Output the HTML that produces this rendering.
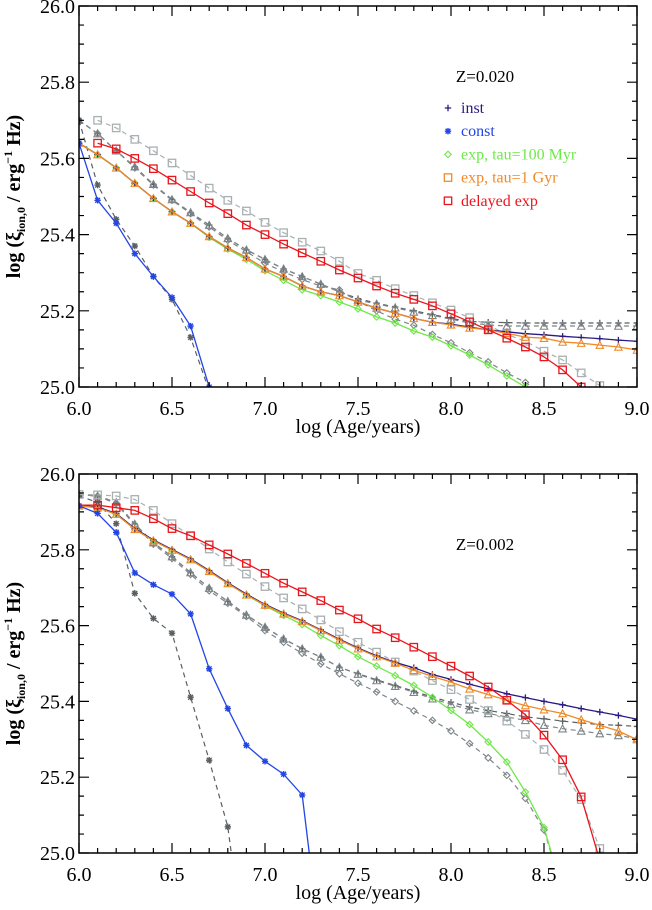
<!DOCTYPE html>
<html><head><meta charset="utf-8"><style>
html,body{margin:0;padding:0;background:#fff;overflow:hidden;width:652px;height:910px;}
svg{display:block;overflow:hidden;}
svg text{font-family:"Liberation Serif","DejaVu Serif",serif;}
</style></head><body>
<svg id="fig" width="652" height="910" viewBox="0 0 652 910" xmlns="http://www.w3.org/2000/svg"></svg>
<script>
const ages=[6.0,6.1,6.2,6.3,6.4,6.5,6.6,6.7,6.8,6.9,7.0,7.1,7.2,7.3,7.4,7.5,7.6,7.7,7.8,7.9,8.0,8.1,8.2,8.3,8.4,8.5,8.6,8.7,8.8,8.9,9.0];
const xTicks=["6.0","6.5","7.0","7.5","8.0","8.5","9.0"];
const yTicks=["25.0","25.2","25.4","25.6","25.8","26.0"];
// Top panel Z=0.020
const topOrange=[25.64,25.61,25.575,25.535,25.495,25.46,25.43,25.395,25.365,25.34,25.31,25.29,25.265,25.25,25.24,25.223,25.207,25.194,25.18,25.17,25.163,25.155,25.15,25.141,25.131,25.128,25.118,25.115,25.11,25.105,25.097];
const topInst=[25.64,25.61,25.575,25.535,25.495,25.46,25.43,25.395,25.365,25.34,25.31,25.29,25.265,25.25,25.24,25.223,25.207,25.194,25.18,25.17,25.165,25.157,25.15,25.145,25.14,25.137,25.133,25.13,25.127,25.123,25.12];
const topGreen=[25.64,25.61,25.575,25.535,25.495,25.46,25.43,25.393,25.362,25.335,25.305,25.28,25.255,25.24,25.223,25.205,25.184,25.168,25.147,25.131,25.108,25.084,25.058,25.029,25.0,24.97,null,null,null,null,null];
const topConst=[25.64,25.49,25.43,25.35,25.29,25.235,25.16,25.0,24.8,null,null,null,null,null,null,null,null,null,null,null,null,null,null,null,null,null,null,null,null,null,null];
const topRed=[null,25.64,25.625,25.6,25.573,25.543,25.513,25.483,25.455,25.425,25.4,25.375,25.352,25.33,25.307,25.286,25.265,25.246,25.23,25.213,25.192,25.171,25.15,25.128,25.105,25.079,25.045,25.0,24.94,null,null];
const topDelayedRef=[null,25.7,25.68,25.65,25.62,25.588,25.555,25.522,25.49,25.462,25.432,25.405,25.38,25.357,25.33,25.298,25.28,25.258,25.24,25.221,25.202,25.182,25.162,25.138,25.12,25.094,25.071,25.037,25.004,24.97,null];
const topInstRef=[25.7,25.665,25.62,25.578,25.532,25.492,25.458,25.425,25.39,25.36,25.335,25.31,25.29,25.27,25.25,25.232,25.22,25.21,25.2,25.19,25.18,25.172,25.17,25.169,25.168,25.168,25.168,25.168,25.168,25.168,25.168];
const topTauRef=[25.7,25.665,25.62,25.578,25.532,25.492,25.458,25.425,25.39,25.36,25.335,25.31,25.29,25.27,25.25,25.228,25.218,25.208,25.197,25.188,25.178,25.168,25.163,25.16,25.16,25.16,25.16,25.16,25.16,25.16,25.16];
const topExpRef=[25.7,25.665,25.62,25.575,25.53,25.49,25.455,25.42,25.385,25.355,25.325,25.302,25.282,25.265,25.255,25.225,25.2,25.178,25.162,25.138,25.116,25.09,25.066,25.037,25.012,24.98,null,null,null,null,null];
const topConstRef=[25.7,25.53,25.44,25.37,25.29,25.23,25.13,24.99,24.8,null,null,null,null,null,null,null,null,null,null,null,null,null,null,null,null,null,null,null,null,null,null];
// Bottom panel Z=0.002
const botOrange=[25.916,25.911,25.894,25.854,25.824,25.799,25.774,25.743,25.711,25.681,25.654,25.631,25.611,25.587,25.562,25.539,25.518,25.501,25.482,25.466,25.451,25.433,25.418,25.403,25.389,25.378,25.368,25.352,25.337,25.322,25.299];
const botInst=[25.918,25.913,25.896,25.856,25.826,25.801,25.776,25.745,25.713,25.683,25.656,25.633,25.613,25.589,25.564,25.541,25.52,25.503,25.489,25.471,25.458,25.445,25.433,25.42,25.41,25.4,25.391,25.381,25.372,25.363,25.353];
const botGreen=[25.916,25.911,25.894,25.854,25.824,25.799,25.774,25.743,25.711,25.681,25.652,25.627,25.603,25.574,25.547,25.518,25.493,25.468,25.442,25.411,25.376,25.339,25.293,25.24,25.161,25.067,24.9,null,null,null,null];
const botConst=[25.916,25.896,25.846,25.739,25.708,25.683,25.631,25.486,25.381,25.284,25.242,25.208,25.153,24.75,null,null,null,null,null,null,null,null,null,null,null,null,null,null,null,null,null];
const botRed=[25.918,25.918,25.911,25.904,25.882,25.856,25.837,25.813,25.789,25.764,25.738,25.712,25.689,25.666,25.641,25.618,25.591,25.568,25.543,25.518,25.493,25.467,25.438,25.403,25.365,25.311,25.246,25.148,24.98,null,null];
const botDelayedRef=[25.946,25.945,25.942,25.933,25.904,25.869,25.837,25.802,25.768,25.736,25.703,25.673,25.644,25.615,25.584,25.556,25.53,25.504,25.48,25.455,25.431,25.405,25.376,25.348,25.313,25.273,25.218,25.141,25.012,24.8,null];
const botInstRef=[25.946,25.942,25.925,25.868,25.819,25.782,25.74,25.699,25.664,25.628,25.596,25.565,25.539,25.517,25.49,25.473,25.457,25.442,25.427,25.411,25.398,25.385,25.376,25.368,25.359,25.354,25.348,25.343,25.339,25.337,25.334];
const botTauRef=[25.946,25.942,25.925,25.868,25.819,25.782,25.74,25.699,25.664,25.628,25.596,25.565,25.539,25.517,25.49,25.472,25.455,25.44,25.424,25.407,25.392,25.378,25.368,25.359,25.35,25.337,25.328,25.322,25.315,25.31,25.302];
const botExpRef=[25.946,25.942,25.922,25.865,25.815,25.777,25.735,25.692,25.659,25.624,25.587,25.556,25.527,25.499,25.473,25.448,25.425,25.4,25.375,25.35,25.322,25.289,25.251,25.205,25.144,25.061,24.9,null,null,null,null];
const botConstRef=[25.942,25.925,25.869,25.685,25.619,25.58,25.411,25.245,25.069,24.7,null,null,null,null,null,null,null,null,null,null,null,null,null,null,null,null,null,null,null,null,null];

const NS="http://www.w3.org/2000/svg";
const FONT='Liberation Serif, DejaVu Serif, serif';
const svg=document.getElementById('fig');
function mk(tag,attrs,parent){const e=document.createElementNS(NS,tag);for(const k in attrs)e.setAttribute(k,attrs[k]);if(tag==='text')e.setAttribute('font-family',FONT);(parent||svg).appendChild(e);return e;}
const L=79,R=637;
const C={navy:'#2b1a80',blue:'#2345e6',green:'#6fe84a',orange:'#f08a28',red:'#e8161c',dgray:'#5a5f62',mgray:'#7d8588',lgray:'#a9b0b2'};

function panel(top,bot,label,series,name,legend){
  const g=mk('g',{});
  
  
  const X=v=>L+(v-6)*(R-L)/3;
  const Y=v=>bot-(v-25)*(bot-top);
  const clipId='clip-'+name;
  const cp=mk('clipPath',{id:clipId},g);mk('rect',{x:L,y:top,width:R-L,height:bot-top},cp);
  const plot=mk('g',{'clip-path':'url(#'+clipId+')'},g);
  
  
  function marker(type,x,y,col,p){
    const s=3.2;
    if(type==='plus'){mk('path',{d:`M${x-s} ${y}H${x+s}M${x} ${y-s}V${y+s}`,stroke:col,'stroke-width':1.3,fill:'none'},p);}
    else if(type==='star'){mk('path',{d:`M${x-s} ${y}H${x+s}M${x} ${y-s}V${y+s}M${x-s*0.75} ${y-s*0.75}L${x+s*0.75} ${y+s*0.75}M${x-s*0.75} ${y+s*0.75}L${x+s*0.75} ${y-s*0.75}`,stroke:col,'stroke-width':1.4,fill:'none'},p);}
    else if(type==='diamond'){mk('path',{d:`M${x} ${y-s}L${x+s} ${y}L${x} ${y+s}L${x-s} ${y}Z`,stroke:col,'stroke-width':1.1,fill:'none'},p);}
    else if(type==='tri'){mk('path',{d:`M${x} ${y-s-0.5}L${x+s+0.5} ${y+s}L${x-s-0.5} ${y+s}Z`,stroke:col,'stroke-width':1.1,fill:'none'},p);}
    else if(type==='sq'){mk('rect',{x:x-s-0.5,y:y-s-0.5,width:2*s+1,height:2*s+1,stroke:col,'stroke-width':1.3,fill:'none'},p);}
  }
  series.forEach(sr=>{
    const sg=mk('g',{},plot);
    
    
    let d='';let pen=false;
    sr.data.forEach((v,i)=>{if(v===null){pen=false;return;}d+=(pen?'L':'M')+X(ages[i]).toFixed(1)+' '+Y(v).toFixed(1);pen=true;});
    const attrs={d:d,fill:'none',stroke:sr.col,'stroke-width':sr.dash?1.2:1.3};
    if(sr.dash)attrs['stroke-dasharray']='5,4';
    mk('path',attrs,sg);
    sr.data.forEach((v,i)=>{if(v===null)return;const x=X(ages[i]),y=Y(v);if(y>bot+4)return;if(sr.name.indexOf('red')>=0&&i===0)return;marker(sr.mk,x,y,sr.col,sg);});
  });
  const fr=mk('rect',{x:L,y:top,width:R-L,height:bot-top,fill:'none',stroke:'#000','stroke-width':1.5},g);
  
  
  let td='';
  for(let i=0;i<=30;i++){const x=X(6+i*0.1);const len=(i%5===0)?10:5;td+=`M${x} ${bot}V${bot-len}M${x} ${top}V${top+len}`;}
  for(let i=0;i<=20;i++){const y=Y(25+i*0.05);const len=(i%4===0)?10:5;td+=`M${L} ${y}H${L+len}M${R} ${y}H${R-len}`;}
  const tk=mk('path',{d:td,stroke:'#000','stroke-width':1.2,fill:'none'},g);
  
  
  xTicks.forEach(t=>{const e=mk('text',{x:X(parseFloat(t)),y:bot+28,'text-anchor':'middle','font-size':20,fill:'#000'},g);e.textContent=t;
    
    });
  yTicks.forEach(t=>{const e=mk('text',{x:L-4,y:Y(parseFloat(t))+7,'text-anchor':'end','font-size':20,fill:'#000'},g);e.textContent=t;
    
    });
  const xl=mk('text',{x:(L+R)/2,y:bot+46,'text-anchor':'middle','font-size':20,fill:'#000'},g);xl.textContent='log (Age/years)';
  
  
  const cy=(top+bot)/2;
  const yl=mk('text',{x:0,y:0,'text-anchor':'middle','font-size':20,'font-weight':'bold',fill:'#000',transform:`translate(20 ${cy}) rotate(-90)`},g);
  
  
  yl.innerHTML='log (ξ<tspan font-size="12" dy="5">ion,0</tspan><tspan dy="-5"> / erg</tspan><tspan font-size="12" dy="-8">−1</tspan><tspan dy="8"> Hz)</tspan>';
  const zl=mk('text',{x:485,y:top+76,'text-anchor':'middle','font-size':17,fill:'#000'},g);zl.textContent=label;
  
  
  if(legend){
    const lg=mk('g',{},g);
    
    
    const items=[['plus',C.navy,'inst'],['star',C.blue,'const'],['diamond',C.green,'exp, tau=100 Myr'],['sq',C.orange,'exp, tau=1 Gyr'],['sq',C.red,'delayed exp']];
    items.forEach((it,i)=>{const y=top+102+i*23.2;
      const eg=mk('g',{},lg);
      
      
      marker(it[0],448,y,it[1],eg);
      const t=mk('text',{x:461,y:y+5,'font-size':16,fill:it[1]},eg);t.textContent=it[2];});
  }
}
function mkSeries(o,i,g,c,r,ir,tr,er,cr,dr){return [
 {name:'inst-ref-dashed',data:ir,col:C.dgray,dash:true,mk:'plus'},
 {name:'tau-ref-dashed',data:tr,col:C.mgray,dash:true,mk:'tri'},
 {name:'exp-ref-dashed',data:er,col:C.mgray,dash:true,mk:'diamond'},
 {name:'const-ref-dashed',data:cr,col:C.dgray,dash:true,mk:'star'},
 {name:'delayed-ref-dashed',data:dr,col:C.lgray,dash:true,mk:'sq'},
 {name:'green-exp-100myr',data:g,col:C.green,dash:false,mk:'diamond'},
 {name:'navy-inst',data:i,col:C.navy,dash:false,mk:'plus'},
 {name:'orange-exp-1gyr',data:o,col:C.orange,dash:false,mk:'tri'},
 {name:'blue-const',data:c,col:C.blue,dash:false,mk:'star'},
 {name:'red-delayed-exp',data:r,col:C.red,dash:false,mk:'sq'}];}
panel(6,387,'Z=0.020',mkSeries(topOrange,topInst,topGreen,topConst,topRed,topInstRef,topTauRef,topExpRef,topConstRef,topDelayedRef),'panel-z020',true);
panel(474,853,'Z=0.002',mkSeries(botOrange,botInst,botGreen,botConst,botRed,botInstRef,botTauRef,botExpRef,botConstRef,botDelayedRef),'panel-z002',false);
</script>
</body></html>
